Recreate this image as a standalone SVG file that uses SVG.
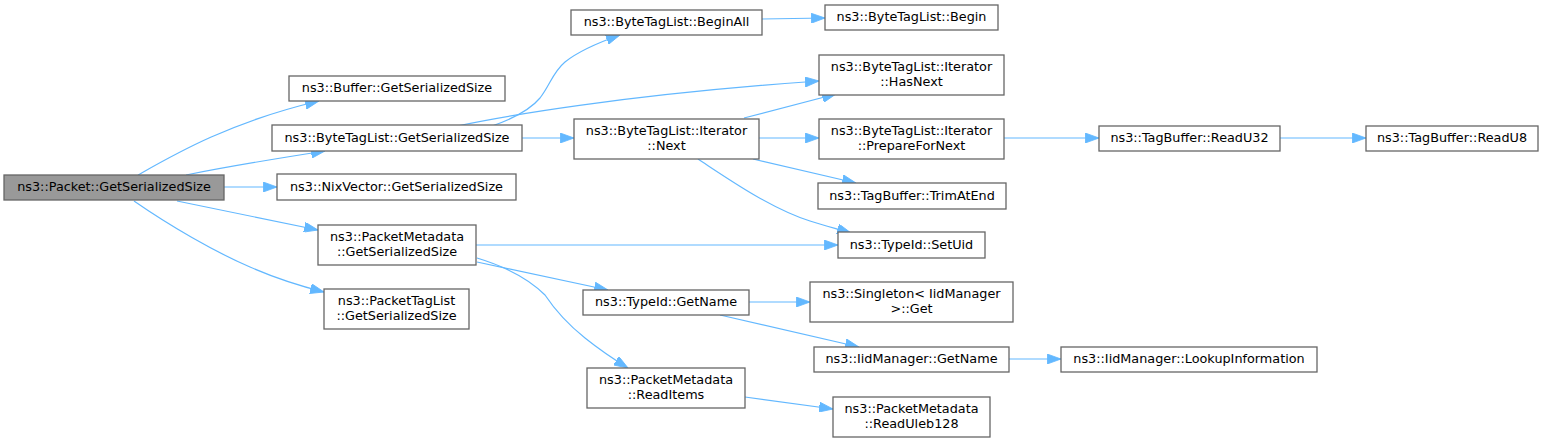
<svg xmlns="http://www.w3.org/2000/svg" width="1544" height="443" viewBox="0 0 1544 443">
<style>
.n rect{fill:#ffffff;stroke:#666666;stroke-width:1.3}
.root rect{fill:#999999}
text{font-family:"DejaVu Sans",sans-serif;font-size:12.8px;fill:#000000;text-anchor:middle}
.e path{fill:none;stroke:#63b8ff;stroke-width:1.2;marker-end:url(#ah)}
</style>
<defs>
<marker id="ah" markerUnits="userSpaceOnUse" markerWidth="14" markerHeight="10" viewBox="0 0 13 9.4" refX="13" refY="4.7" orient="auto">
<path d="M0,0 L13,4.7 L0,9.4 z" fill="#63b8ff" stroke="#63b8ff" stroke-width="0.8"/>
</marker>
</defs>
<rect width="1544" height="443" fill="#ffffff"/>
<g id="edges" class="e">
<path d="M138,175 C175,154 230,122 319,101"/>
<path d="M186,175 C230,166 280,158 325,151"/>
<path d="M224,187 L277,187"/>
<path d="M177,201 L318,230"/>
<path d="M134,201 C170,226 215,252 250,267 C275,278 300,286 324,292"/>
<path d="M492,126 C515,118 530,110 540,98 C550,85 553,72 565,62 C580,50 600,42 620,35"/>
<path d="M457,126 C500,117 620,95 819,81"/>
<path d="M522,138 L574,138"/>
<path d="M762,19 L825,18"/>
<path d="M744,118 L836,94"/>
<path d="M759,138 L819,138"/>
<path d="M753,159 L856,183"/>
<path d="M698,159 C730,180 770,208 810,221 C825,226 838,229 851,233"/>
<path d="M476,245 L838,245"/>
<path d="M477,262 L608,290"/>
<path d="M477,258 C510,268 530,280 545,295 C555,310 565,322 585,338 C600,350 615,360 628,368"/>
<path d="M749,302 L810,302"/>
<path d="M720,315 L859,347"/>
<path d="M1009,359 L1061,359"/>
<path d="M745,397 L833,409"/>
<path d="M1003,138 L1099,138"/>
<path d="M1280,138 L1366,138"/>
</g>
<g id="n_packet_getserializedsize" class="n root"><rect x="4" y="175" width="220" height="25"/><text x="114" y="191">ns3::Packet::GetSerializedSize</text></g>
<g id="n_buffer_getserializedsize" class="n"><rect x="289" y="76" width="216" height="25"/><text x="397" y="92">ns3::Buffer::GetSerializedSize</text></g>
<g id="n_bytetaglist_getserializedsize" class="n"><rect x="272" y="125" width="250" height="26"/><text x="397" y="142">ns3::ByteTagList::GetSerializedSize</text></g>
<g id="n_nixvector_getserializedsize" class="n"><rect x="277" y="174" width="239" height="26"/><text x="396.5" y="191">ns3::NixVector::GetSerializedSize</text></g>
<g id="n_packetmetadata_getserializedsize" class="n"><rect x="318" y="225" width="158" height="40"/><text x="397" y="240.5">ns3::PacketMetadata</text><text x="397" y="256">::GetSerializedSize</text></g>
<g id="n_packettaglist_getserializedsize" class="n"><rect x="324" y="289" width="145" height="40"/><text x="396.5" y="304.5">ns3::PacketTagList</text><text x="396.5" y="320">::GetSerializedSize</text></g>
<g id="n_bytetaglist_beginall" class="n"><rect x="571" y="10" width="191" height="25"/><text x="666.5" y="26">ns3::ByteTagList::BeginAll</text></g>
<g id="n_bytetaglist_begin" class="n"><rect x="825" y="5" width="173" height="25"/><text x="911.5" y="21">ns3::ByteTagList::Begin</text></g>
<g id="n_iterator_hasnext" class="n"><rect x="819" y="55" width="185" height="40"/><text x="911.5" y="70.5">ns3::ByteTagList::Iterator</text><text x="911.5" y="86">::HasNext</text></g>
<g id="n_iterator_next" class="n"><rect x="574" y="119" width="185" height="40"/><text x="666.5" y="134.5">ns3::ByteTagList::Iterator</text><text x="666.5" y="150">::Next</text></g>
<g id="n_iterator_preparefornext" class="n"><rect x="819" y="119" width="185" height="40"/><text x="911.5" y="134.5">ns3::ByteTagList::Iterator</text><text x="911.5" y="150">::PrepareForNext</text></g>
<g id="n_tagbuffer_trimatend" class="n"><rect x="818" y="183" width="188" height="26"/><text x="912" y="200">ns3::TagBuffer::TrimAtEnd</text></g>
<g id="n_typeid_setuid" class="n"><rect x="838" y="232" width="147" height="26"/><text x="911.5" y="249">ns3::TypeId::SetUid</text></g>
<g id="n_typeid_getname" class="n"><rect x="583" y="290" width="166" height="25"/><text x="666" y="306">ns3::TypeId::GetName</text></g>
<g id="n_singleton_get" class="n"><rect x="810" y="282" width="203" height="40"/><text x="911.5" y="297.5">ns3::Singleton&lt; IidManager</text><text x="911.5" y="313">&gt;::Get</text></g>
<g id="n_iidmanager_getname" class="n"><rect x="814" y="347" width="195" height="25"/><text x="911.5" y="363">ns3::IidManager::GetName</text></g>
<g id="n_packetmetadata_readitems" class="n"><rect x="587" y="368" width="158" height="40"/><text x="666" y="383.5">ns3::PacketMetadata</text><text x="666" y="399">::ReadItems</text></g>
<g id="n_packetmetadata_readuleb128" class="n"><rect x="833" y="397" width="157" height="40"/><text x="911.5" y="412.5">ns3::PacketMetadata</text><text x="911.5" y="428">::ReadUleb128</text></g>
<g id="n_tagbuffer_readu32" class="n"><rect x="1099" y="126" width="181" height="25"/><text x="1189.5" y="142">ns3::TagBuffer::ReadU32</text></g>
<g id="n_tagbuffer_readu8" class="n"><rect x="1366" y="126" width="172" height="25"/><text x="1452" y="142">ns3::TagBuffer::ReadU8</text></g>
<g id="n_iidmanager_lookupinformation" class="n"><rect x="1061" y="347" width="256" height="25"/><text x="1189" y="363">ns3::IidManager::LookupInformation</text></g>
</svg>
